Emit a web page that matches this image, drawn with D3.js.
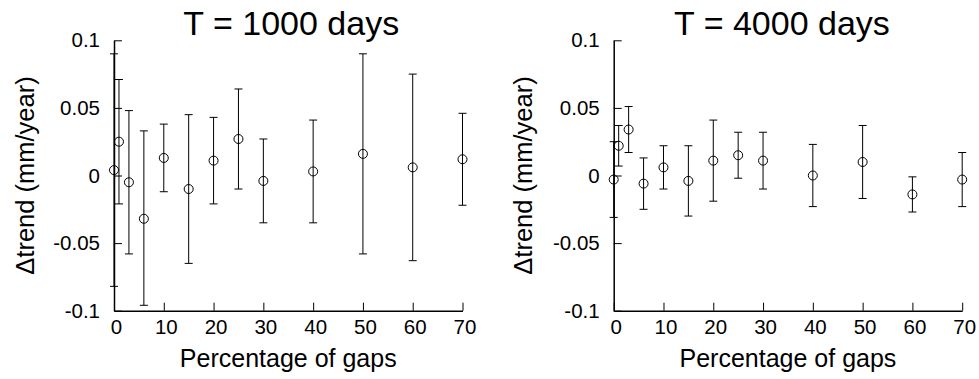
<!DOCTYPE html>
<html><head><meta charset="utf-8">
<script src="https://cdn.jsdelivr.net/npm/d3@7"></script>
<style>body{margin:0;background:#fff}svg{display:block}text{font-family:"Liberation Sans",Arial,sans-serif;fill:#000}</style>
</head><body>
<script>
const gaps = [0, 1, 3, 6, 10, 15, 20, 25, 30, 40, 50, 60, 70];
const xTicks = [0, 10, 20, 30, 40, 50, 60, 70];
const yTicks = [-0.1, -0.05, 0, 0.05, 0.1];
const yTickLabels = ["-0.1", "-0.05", "0", "0.05", "0.1"];
const titles = ["T = 1000 days", "T = 4000 days"];

const mean1000 = [0.004, 0.025, -0.005, -0.032, 0.013, -0.010, 0.011, 0.027, -0.004, 0.003, 0.016, 0.006, 0.012];
const upper1000 = [0.090, 0.071, 0.048, 0.033, 0.038, 0.045, 0.043, 0.064, 0.027, 0.041, 0.090, 0.075, 0.046];
const lower1000 = [-0.082, -0.021, -0.058, -0.096, -0.012, -0.065, -0.021, -0.010, -0.035, -0.035, -0.058, -0.063, -0.022];

const mean4000 = [-0.003, 0.022, 0.034, -0.006, 0.006, -0.004, 0.011, 0.015, 0.011, 0.000, 0.010, -0.014, -0.003];
const upper4000 = [0.025, 0.037, 0.051, 0.013, 0.022, 0.022, 0.041, 0.032, 0.032, 0.023, 0.037, -0.001, 0.017];
const lower4000 = [-0.031, 0.007, 0.017, -0.025, -0.010, -0.030, -0.019, -0.002, -0.010, -0.023, -0.017, -0.027, -0.023];

const W = 979, H = 379;
const svg = d3.select("body").append("svg").attr("width", W).attr("height", H);

const panels = [
  {left: 114, title: titles[0], mean: mean1000, up: upper1000, lo: lower1000, titleDx: 3, ylabX: 25},
  {left: 613.7, title: titles[1], mean: mean4000, up: upper4000, lo: lower4000, titleDx: -6, ylabX: 523}
];
const pw = 348.5, plotTop = 40.3, plotBottom = 310.7;

panels.forEach(p => {
  const x = d3.scaleLinear().domain([0, 70]).range([p.left, p.left + pw]);
  const y = d3.scaleLinear().domain([-0.1, 0.1]).range([plotBottom, plotTop]);
  const g = svg.append("g");

  // error bars
  const cap = 4;
  const eb = g.append("g").attr("stroke", "#000").attr("stroke-width", 1).attr("fill", "none");
  gaps.forEach((v, i) => {
    const cx = x(v);
    eb.append("line").attr("x1", cx).attr("x2", cx).attr("y1", y(p.up[i])).attr("y2", y(p.lo[i]));
    eb.append("line").attr("x1", cx - cap).attr("x2", cx + cap).attr("y1", y(p.up[i])).attr("y2", y(p.up[i]));
    eb.append("line").attr("x1", cx - cap).attr("x2", cx + cap).attr("y1", y(p.lo[i])).attr("y2", y(p.lo[i]));
  });
  g.append("g").selectAll("circle").data(gaps).join("circle")
    .attr("cx", d => x(d)).attr("cy", (d, i) => y(p.mean[i])).attr("r", 4.5)
    .attr("fill", "none").attr("stroke", "#000").attr("stroke-width", 1);

  // axes (inward ticks)
  const xa = g.append("g").attr("transform", `translate(0,${plotBottom})`)
    .call(d3.axisBottom(x).tickValues(xTicks).tickSizeInner(-8).tickSizeOuter(0).tickPadding(13).tickFormat(d3.format("d")));
  const ya = g.append("g").attr("transform", `translate(${p.left},0)`)
    .call(d3.axisLeft(y).tickValues(yTicks).tickSizeInner(-8).tickSizeOuter(0).tickPadding(14).tickFormat((d, i) => yTickLabels[i]));
  [xa, ya].forEach(a => {
    a.select(".domain").attr("stroke", "#000").attr("stroke-width", 1.5);
    a.selectAll(".tick line").attr("stroke", "#000").attr("stroke-width", 1);
    a.selectAll("text").style("font-size", "20.5px").style("font-family", '"Liberation Sans", Arial, sans-serif');
  });
  xa.selectAll(".tick text").attr("dy", "0.5em").attr("dx", 2);

  // labels
  const mid = p.left + pw / 2;
  g.append("text").attr("x", mid + p.titleDx).attr("y", 35).attr("text-anchor", "middle")
    .style("font-size", "34px").text(p.title);
  g.append("text").attr("x", mid).attr("y", 367).attr("text-anchor", "middle")
    .style("font-size", "25px").text("Percentage of gaps");
  g.append("text").attr("transform", `translate(${p.ylabX + 9},175.5) rotate(-90)`)
    .attr("text-anchor", "middle").style("font-size", "25.5px").text("Δtrend (mm/year)");
});
</script>
</body></html>
